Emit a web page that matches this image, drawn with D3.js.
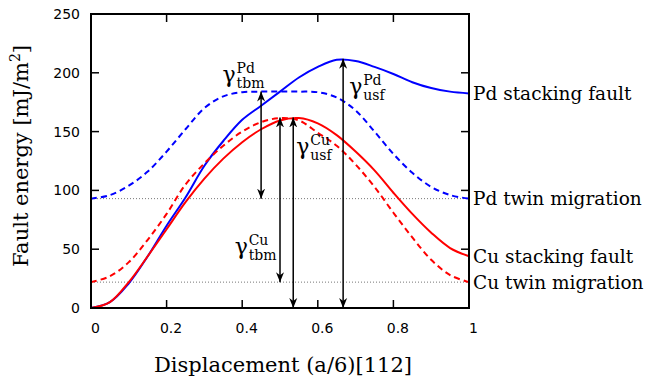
<!DOCTYPE html>
<html>
<head>
<meta charset="utf-8">
<script src="https://cdn.jsdelivr.net/npm/d3@7"></script>
<style>
  body { margin: 0; background: #fff; }
  svg text { fill: #000; }
</style>
</head>
<body>
<div id="chart"></div>
<script>
// displacement samples (a/6)[112]
const disp = [0, 0.05, 0.1, 0.15, 0.2, 0.25, 0.3, 0.35, 0.4, 0.45, 0.5, 0.55, 0.6, 0.65, 0.7, 0.75, 0.8, 0.85, 0.9, 0.95, 1];

// fault energies, mJ/m^2
const pdStacking = [0, 5, 21, 44, 70, 94, 121, 142, 160, 172, 184, 196, 205, 211, 210, 205, 199, 192, 187, 184, 182.5];
const pdTwin     = [93, 96, 104, 116, 133, 152, 170, 180, 183.5, 184, 184, 184, 183.5, 179, 168, 150, 131, 115, 103, 96, 93];
const cuStacking = [0, 5, 22, 44, 67, 90, 110, 127, 141, 152, 159.5, 161.5, 157, 147, 133, 117, 98, 80, 64, 51, 44];
const cuTwin     = [22, 27, 39, 58, 80, 105, 123, 138, 150, 158, 161.5, 159.5, 149, 138, 122, 103, 81, 60, 41, 28, 22];

const seriesNames = ["Pd stacking fault", "Pd twin migration", "Cu stacking fault", "Cu twin migration"];

// arrows: x position, bottom value, top value
const arrowX   = [0.45, 0.50, 0.535, 0.667];
const arrowLo  = [93, 22, 0, 0];
const arrowHi  = [184, 162, 162, 212];
const arrowSup = ["Pd", "Cu", "Cu", "Pd"];
const arrowSub = ["tbm", "tbm", "usf", "usf"];

const xTicks = [0, 0.2, 0.4, 0.6, 0.8, 1];
const yTicks = [0, 50, 100, 150, 200, 250];

const margin = {top: 14, right: 177, bottom: 72, left: 91};
const width = 646 - margin.left - margin.right;
const height = 380 - margin.top - margin.bottom;

const svg = d3.select("#chart").append("svg")
    .attr("width", 646)
    .attr("height", 380);

svg.append("defs").append("marker")
    .attr("id", "head")
    .attr("viewBox", "-10 -5 10 10")
    .attr("refX", 0).attr("refY", 0)
    .attr("markerUnits", "userSpaceOnUse")
    .attr("markerWidth", 10).attr("markerHeight", 10)
    .attr("orient", "auto-start-reverse")
    .append("path")
    .attr("d", "M0,0 L-10,-4 L-7,0 L-10,4 Z")
    .attr("fill", "#000");

const g = svg.append("g").attr("transform", `translate(${margin.left},${margin.top})`);

const x = d3.scaleLinear().domain([0, 1]).range([0, width]);
const y = d3.scaleLinear().domain([0, 250]).range([height, 0]);

// dotted reference levels (twin migration minima)
[pdTwin[0], cuTwin[0]].forEach(v => {
    g.append("line")
        .attr("x1", 0).attr("x2", width)
        .attr("y1", y(v)).attr("y2", y(v))
        .attr("stroke", "#777")
        .attr("stroke-width", 1)
        .attr("stroke-dasharray", "1,2");
});

const line = d3.line()
    .x((d, i) => x(disp[i]))
    .y(d => y(d))
    .curve(d3.curveCatmullRom);

const curves = [
    {vals: pdStacking, color: "#0000ff", dash: null},
    {vals: pdTwin,     color: "#0000ff", dash: "6,4"},
    {vals: cuStacking, color: "#ff0000", dash: null},
    {vals: cuTwin,     color: "#ff0000", dash: "6,4"}
];

curves.forEach(c => {
    g.append("path")
        .attr("d", line(c.vals))
        .attr("fill", "none")
        .attr("stroke", c.color)
        .attr("stroke-width", 2)
        .attr("stroke-dasharray", c.dash);
});

// arrows
arrowX.forEach((ax, i) => {
    g.append("line")
        .attr("x1", x(ax)).attr("x2", x(ax))
        .attr("y1", y(arrowLo[i])).attr("y2", y(arrowHi[i]))
        .attr("stroke", "#000")
        .attr("stroke-width", 1.5)
        .attr("marker-start", "url(#head)")
        .attr("marker-end", "url(#head)");
});

// gamma labels (left edge / baseline of the gamma, in data units)
const labelAt = [[0.348, 192], [0.380, 46], [0.543, 131], [0.683, 182]];
labelAt.forEach((p, i) => {
    const lx = x(p[0]), ly = y(p[1]);
    const t = g.append("g").attr("transform", `translate(${lx},${ly})`)
        .style("font-family", "'DejaVu Serif', serif");
    t.append("text").attr("x", 0).attr("y", 0).style("font-size", "22px").text("γ");
    t.append("text").attr("x", 14).attr("y", -9).style("font-size", "14px").text(arrowSup[i]);
    t.append("text").attr("x", 14).attr("y", 6).style("font-size", "14px").text(arrowSub[i]);
});

// frame
g.append("rect")
    .attr("width", width).attr("height", height)
    .attr("fill", "none")
    .attr("stroke", "#000")
    .attr("stroke-width", 2);

// ticks (inward on all four sides)
const tickLen = 8;
xTicks.slice(1, -1).forEach(t => {
    g.append("line").attr("x1", x(t)).attr("x2", x(t)).attr("y1", height).attr("y2", height - tickLen).attr("stroke", "#000").attr("stroke-width", 1.5);
    g.append("line").attr("x1", x(t)).attr("x2", x(t)).attr("y1", 0).attr("y2", tickLen).attr("stroke", "#000").attr("stroke-width", 1.5);
});
yTicks.slice(1, -1).forEach(t => {
    g.append("line").attr("x1", 0).attr("x2", tickLen).attr("y1", y(t)).attr("y2", y(t)).attr("stroke", "#000").attr("stroke-width", 1.5);
    g.append("line").attr("x1", width).attr("x2", width - tickLen).attr("y1", y(t)).attr("y2", y(t)).attr("stroke", "#000").attr("stroke-width", 1.5);
});

const fmt = d3.format("~g");
g.selectAll(".xt").data(xTicks).join("text")
    .attr("x", d => x(d) + 4.5)
    .attr("y", height + 25)
    .attr("text-anchor", "middle")
    .style("font-family", "'DejaVu Sans', sans-serif")
    .style("font-size", "14px")
    .text(d => fmt(d));

g.selectAll(".yt").data(yTicks).join("text")
    .attr("x", -11)
    .attr("y", d => y(d))
    .attr("dy", "0.36em")
    .attr("text-anchor", "end")
    .style("font-family", "'DejaVu Sans', sans-serif")
    .style("font-size", "14px")
    .text(d => fmt(d));

// axis titles
g.append("text")
    .attr("x", width / 2 + 3)
    .attr("y", height + 64)
    .attr("text-anchor", "middle")
    .style("font-family", "'DejaVu Serif', serif")
    .style("font-size", "21px")
    .text("Displacement (a/6)[112]");

const yt = g.append("text")
    .attr("transform", `translate(${-63},${height / 2 - 5}) rotate(-90)`)
    .attr("text-anchor", "middle")
    .style("font-family", "'DejaVu Serif', serif")
    .style("font-size", "21px");
yt.append("tspan").text("Fault energy [mJ/m");
yt.append("tspan").attr("dy", -8).style("font-size", "14px").text("2");
yt.append("tspan").attr("dy", 8).text("]");

// series labels at curve ends
const ends = [pdStacking, pdTwin, cuStacking, cuTwin].map(v => v[v.length - 1]);
g.selectAll(".lab").data(seriesNames).join("text")
    .attr("x", width + 4)
    .attr("y", (d, i) => y(ends[i]))
    .attr("dy", "0.35em")
    .style("font-family", "'DejaVu Serif', serif")
    .style("font-size", "18.5px")
    .text(d => d);
</script>
</body>
</html>
